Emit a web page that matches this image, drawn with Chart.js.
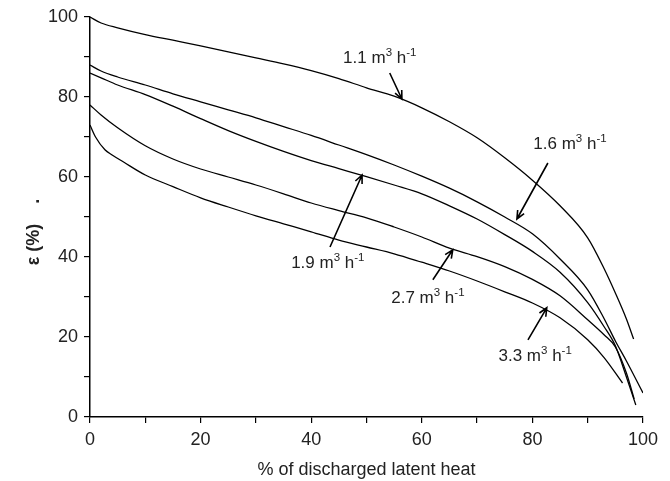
<!DOCTYPE html>
<html>
<head>
<meta charset="utf-8">
<script src="https://cdn.jsdelivr.net/npm/chart.js@4"></script>
<style>
  html, body { margin: 0; padding: 0; background: #fff; }
  #wrap { width: 670px; height: 481px; }
</style>
</head>
<body>
<div id="wrap"><canvas id="c" width="670" height="481"></canvas></div>
<script>
// ---- Data ----
const flowLabels = ["1.1", "1.6", "1.9", "2.7", "3.3"];

const x11 = [0, 2, 5, 10, 15, 20, 25, 30, 35, 40, 45, 50, 55, 60, 65, 70, 75, 80, 85, 90, 93, 95, 97, 98.3];
const y11 = [100, 98.5, 97.3, 95.6, 94.2, 92.8, 91.3, 89.8, 88.3, 86.6, 84.6, 82.3, 80.2, 77.3, 73.8, 69.8, 64.8, 59.2, 52.8, 44.8, 37, 31, 24.5, 19.5];

const x16 = [0, 2, 5, 10, 15, 20, 25, 30, 35, 40, 45, 50, 55, 60, 65, 70, 75, 80, 85, 90, 93, 95, 97, 100];
const y16 = [88, 86.5, 85, 83, 80.8, 78.8, 76.8, 74.8, 72.6, 70.4, 68, 65.6, 63, 60.2, 57.2, 53.8, 50, 45.8, 39.5, 31.8, 24.5, 19, 14, 6];

const x19 = [0, 2, 5, 10, 15, 20, 25, 30, 35, 40, 45, 50, 55, 60, 65, 70, 75, 80, 85, 90, 93, 95, 97, 98.7];
const y19 = [86, 84.8, 83, 80.6, 77.7, 74.6, 71.6, 68.9, 66.4, 64.1, 62.1, 60.1, 58, 55.8, 52.8, 49.5, 45.6, 41.4, 36.2, 28.6, 22.5, 17.8, 10, 3];

const x27 = [0, 2, 5, 10, 15, 20, 25, 30, 35, 40, 45, 50, 55, 60, 65, 70, 75, 80, 85, 90, 93, 95, 97, 98.4];
const y27 = [78, 75.5, 72.3, 67.8, 64.5, 62, 60, 58, 55.8, 53.5, 51.6, 49.8, 47.5, 45, 42.2, 40.1, 37.6, 34.4, 30.3, 24.3, 20.5, 17.5, 11, 4.5];

const x33 = [0, 1, 2.7, 4, 6, 10, 15, 20, 25, 30, 35, 40, 45, 50, 55, 60, 65, 70, 75, 80, 85, 90, 93, 96.3];
const y33 = [73, 70, 66.8, 65.5, 63.8, 60.5, 57.6, 54.8, 52.5, 50.3, 48.3, 46.3, 44.2, 42.5, 40.8, 38.7, 36.5, 34, 31.3, 28.5, 24.8, 19.3, 14.8, 8.5];

const xTicks = [0, 20, 40, 60, 80, 100];
const yTicks = [0, 20, 40, 60, 80, 100];

// annotation label anchor, arrow tail, arrow tip (data units)
const annLabelX = [52.4, 86.8, 43.0, 61.1, 80.5];
const annLabelY = [90.0, 68.5, 38.8, 30.0, 15.5];
const annTailX  = [54.2, 82.8, 43.4, 62.0, 79.2];
const annTailY  = [86.0, 63.5, 42.5, 34.3, 19.3];
const annTipX   = [56.4, 77.2, 49.2, 65.6, 82.6];
const annTipY   = [79.5, 49.5, 60.5, 41.8, 27.3];

// ---- Build datasets ----
function pts(xs, ys) { return xs.map((x, i) => ({ x: x, y: ys[i] })); }
const seriesX = [x11, x16, x19, x27, x33];
const seriesY = [y11, y16, y19, y27, y33];

const datasets = seriesX.map((xs, i) => ({
  label: flowLabels[i] + " m³ h⁻¹",
  data: pts(xs, seriesY[i]),
  borderColor: "#000",
  borderWidth: 1.3,
  pointRadius: 0,
  tension: 0.3,
  cubicInterpolationMode: "monotone",
  fill: false
}));

const FONT = 'Arial, "Liberation Sans", sans-serif';

const annotationPlugin = {
  id: "flowAnnotations",
  afterDatasetsDraw(chart) {
    const ctx = chart.ctx;
    const xs = chart.scales.x, ys = chart.scales.y;
    ctx.save();
    ctx.strokeStyle = "#000";
    ctx.fillStyle = "#222";
    ctx.lineWidth = 1.6;
    for (let i = 0; i < flowLabels.length; i++) {
      const tx = xs.getPixelForValue(annTailX[i]), ty = ys.getPixelForValue(annTailY[i]);
      const hx = xs.getPixelForValue(annTipX[i]), hy = ys.getPixelForValue(annTipY[i]);
      ctx.beginPath();
      ctx.moveTo(tx, ty);
      ctx.lineTo(hx, hy);
      const ang = Math.atan2(hy - ty, hx - tx);
      const L = 9, A = 0.42;
      ctx.moveTo(hx - L * Math.cos(ang - A), hy - L * Math.sin(ang - A));
      ctx.lineTo(hx, hy);
      ctx.lineTo(hx - L * Math.cos(ang + A), hy - L * Math.sin(ang + A));
      ctx.stroke();

      // label with superscripts
      const parts = [
        [flowLabels[i] + " m", 17, 0],
        ["3", 11.5, -7],
        [" h", 17, 0],
        ["-1", 11.5, -7]
      ];
      let w = 0;
      parts.forEach(p => { ctx.font = p[1] + "px " + FONT; w += ctx.measureText(p[0]).width; });
      let cx = xs.getPixelForValue(annLabelX[i]) - w / 2;
      const cy = ys.getPixelForValue(annLabelY[i]) + 6;
      ctx.textBaseline = "alphabetic";
      ctx.textAlign = "left";
      parts.forEach(p => {
        ctx.font = p[1] + "px " + FONT;
        ctx.fillText(p[0], cx, cy + p[2]);
        cx += ctx.measureText(p[0]).width;
      });
    }
    ctx.restore();
  }
};

new Chart(document.getElementById("c"), {
  type: "line",
  data: { datasets: datasets },
  options: {
    responsive: false,
    animation: false,
    layout: { padding: { top: 17, right: 27, bottom: 0, left: 0 } },
    plugins: { legend: { display: false }, tooltip: { enabled: false } },
    scales: {
      x: {
        type: "linear",
        min: 0, max: 100,
        afterFit(scale) { scale.height = 64; },
        afterBuildTicks(scale) {
          scale.ticks = [0,10,20,30,40,50,60,70,80,90,100].map(v => ({ value: v }));
        },
        ticks: {
          autoSkip: false,
          maxRotation: 0,
          padding: 6,
          color: "#222",
          font: { family: FONT, size: 18 },
          callback: v => (xTicks.includes(v) ? String(v) : "")
        },
        grid: { drawOnChartArea: false, drawTicks: true, tickLength: 6, color: "#000", lineWidth: 1.2 },
        border: { display: true, color: "#000", width: 1.5 },
        title: {
          display: true,
          text: "% of discharged latent heat",
          color: "#222",
          font: { family: FONT, size: 18 },
          padding: { top: 4, bottom: 0 }
        }
      },
      y: {
        type: "linear",
        min: 0, max: 100,
        afterFit(scale) { scale.width = 90; },
        afterBuildTicks(scale) {
          scale.ticks = [0,10,20,30,40,50,60,70,80,90,100].map(v => ({ value: v }));
        },
        ticks: {
          autoSkip: false,
          padding: 6,
          color: "#222",
          font: { family: FONT, size: 18 },
          callback: v => (yTicks.includes(v) ? String(v) : "")
        },
        grid: { drawOnChartArea: false, drawTicks: true, tickLength: 6, color: "#000", lineWidth: 1.2 },
        border: { display: true, color: "#000", width: 1.5 },
        title: {
          display: true,
          text: "ε (%)\u00a0\u00a0\u00a0\u00a0.\u00a0\u00a0\u00a0\u00a0\u00a0\u00a0",
          color: "#222",
          font: { family: FONT, size: 18, weight: "bold" },
          padding: { top: 23, bottom: 0 }
        }
      }
    }
  },
  plugins: [annotationPlugin]
});
</script>
</body>
</html>
